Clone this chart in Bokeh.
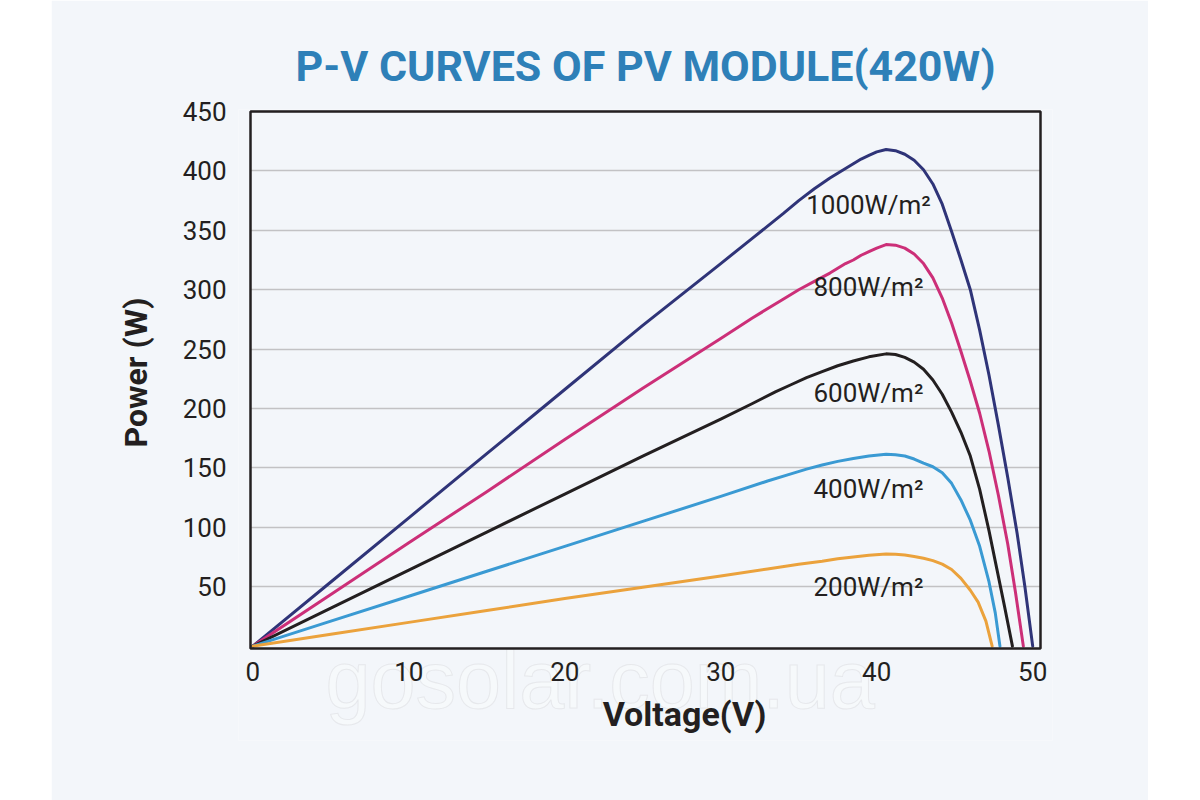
from bokeh.plotting import figure
from bokeh.models import Label, FixedTicker, Spacer, Title, BoxAnnotation
from bokeh.layouts import row
from bokeh.embed import file_html
from bokeh.resources import INLINE

# ---- data ----
v_1000 = [0, 5, 10, 15, 20, 25, 30, 32, 34, 35, 36, 37, 37.5, 38, 38.5, 39, 39.5, 40, 40.6, 41.2, 41.8, 42.4, 43, 43.6, 44.2, 44.8, 45.4, 46, 46.6, 47.2, 47.8, 48.4, 49, 49.5, 50]
p_1000 = [0, 54, 108, 162, 216, 270, 322, 343, 364, 375, 385, 394, 398, 402, 406, 410, 413, 416, 418, 417, 414, 409, 401, 389, 372, 349, 325, 300, 266, 228, 186, 142, 95, 50, 0]

v_800 = [0, 5, 10, 15, 20, 25, 30, 32, 34, 35, 36, 37, 37.5, 38, 38.5, 39, 39.5, 40, 40.6, 41.2, 41.8, 42.4, 43, 43.6, 44.2, 44.8, 45.4, 46, 46.6, 47.2, 47.8, 48.4, 48.9, 49.4]
p_800 = [0, 43.5, 87, 130, 174, 217, 259, 276, 292, 300, 307, 314, 318, 322, 325, 329, 332, 335, 338, 337.5, 335, 330, 322, 310, 293, 272, 248, 223, 196, 164, 127, 86, 45, 0]

v_600 = [0, 5, 10, 15, 20, 25, 30, 32, 33.5, 34.5, 35.5, 36.5, 37.5, 38.5, 39.5, 40.6, 41.2, 41.8, 42.4, 43, 43.6, 44.2, 44.8, 45.4, 46, 46.6, 47.2, 47.7, 48.2, 48.7]
p_600 = [0, 32, 64, 96, 128, 160, 191, 204, 214, 220, 226, 231, 236, 240, 243.5, 246, 245.5, 243, 239, 233, 224, 212, 197, 180, 160, 132, 97, 65, 33, 0]

v_400 = [0, 5, 10, 15, 20, 25, 30, 33, 34.5, 35.5, 36.5, 37.5, 38.5, 39.5, 40.6, 41.2, 41.8, 42.4, 43, 43.6, 44.2, 44.8, 45.4, 46, 46.6, 47.2, 47.6, 47.9]
p_400 = [0, 21, 42, 63, 84, 105, 126, 139, 145, 149, 152.5, 155.5, 158, 160, 161.5, 161, 160, 157.5, 154, 151, 146, 137, 123, 106, 84, 54, 28, 0]

v_200 = [0, 5, 10, 15, 20, 25, 30, 33, 35, 36.5, 37.5, 38.5, 39.5, 40.6, 41.2, 41.8, 42.4, 43, 43.6, 44.2, 44.8, 45.4, 46, 46.5, 47, 47.4]
p_200 = [0, 10, 20, 30, 40, 49.5, 59, 65, 69, 71.5, 73.5, 75, 76.5, 77.5, 77.3, 76.7, 75.5, 74, 72, 69, 64.5, 57, 47, 37, 21, 0]

series_names = ["1000W/m²", "800W/m²", "600W/m²", "400W/m²", "200W/m²"]
series_v = [v_1000, v_800, v_600, v_400, v_200]
series_p = [p_1000, p_800, p_600, p_400, p_200]
series_colors = ["#2f3478", "#cc2f78", "#231f20", "#3a9ad3", "#eba23c"]
label_x = [39.47, 39.47, 39.47, 39.47, 39.47]
label_y = [371, 302, 213, 132, 49.5]

x_ticks = [0, 10, 20, 30, 40, 50]
y_ticks = [50, 100, 150, 200, 250, 300, 350, 400, 450]
x_min, x_max = -0.15, 50.5
y_min, y_max = -2, 450

title_text = "P-V CURVES OF PV MODULE(420W)"
x_title = "Voltage(V)"
y_title = "Power (W)"
watermark = "gosolar.com.ua"

BG = "#f3f6fa"
TXT = "#231f20"
GRID = "#c2c2c4"
FONT = "Roboto"

# pixel scales of the plot area (790 px wide, 537 px high)
kx = 790 / (x_max - x_min)
ky = 537 / (y_max - y_min)
# frame: 12px wider than the drawn box on each side, 2px higher, down to y=740
xr = (x_min - 12 / kx, x_max + 12 / kx)
yr = (y_max + 2 / ky - 631 / ky, y_max + 2 / ky)

p = figure(width=1097, height=800, x_range=xr, y_range=yr,
           output_backend="svg", toolbar_location=None,
           min_border_left=187, min_border_right=96, min_border_top=109, min_border_bottom=60)
p.background_fill_color = BG
p.border_fill_color = BG
p.outline_line_color = None

p.xgrid.visible = False
grid_ok = True
try:
    p.ygrid.cross_bounds = (x_min, x_max)
except Exception:
    grid_ok = False
if grid_ok:
    p.ygrid.grid_line_color = GRID
    p.ygrid.grid_line_width = 1.6
    p.ygrid.ticker = FixedTicker(ticks=y_ticks)
else:
    p.ygrid.visible = False
    p.segment(x0=[x_min] * len(y_ticks), x1=[x_max] * len(y_ticks), y0=y_ticks, y1=y_ticks,
              line_color=GRID, line_width=1.6, level="underlay")

for ax in (p.xaxis[0], p.yaxis[0]):
    ax.axis_line_color = None
    ax.major_tick_line_color = None
    ax.minor_tick_line_color = None
    ax.major_tick_out = 0
    ax.major_tick_in = 0
    ax.minor_tick_out = 0
    ax.major_label_text_font = FONT
    ax.major_label_text_font_size = "26px"
    ax.major_label_text_color = TXT
p.xaxis.ticker = FixedTicker(ticks=x_ticks)
p.yaxis.ticker = FixedTicker(ticks=y_ticks)
p.yaxis.major_label_standoff = 12
p.xaxis.major_label_standoff = 13
p.xaxis.fixed_location = y_min

# watermark (beneath everything else)
p.add_layout(Label(x=4.66, y=-28.1, text=watermark, text_font="Liberation Sans",
                   text_font_size="81px", text_color="#ffffff", text_alpha=0.3,
                   text_outline_color="#c6c7c9", text_align="left",
                   text_baseline="alphabetic", level="underlay"))

# plot-area border
p.add_layout(BoxAnnotation(left=x_min, right=x_max, bottom=y_min, top=y_max,
                           fill_color=None, fill_alpha=0, line_color=TXT, line_alpha=1.0,
                           line_width=2.5))

for v, pw, c in zip(series_v, series_p, series_colors):
    p.line(v, pw, line_color=c, line_width=3, line_join="round", line_cap="round")

for name, lx, ly in zip(series_names, label_x, label_y):
    p.add_layout(Label(x=lx, y=ly, text=name, text_font=FONT, text_font_size="26px",
                       text_color=TXT, text_align="center", text_baseline="alphabetic"))

p.add_layout(Label(x=27.68, y=-57.5, text=x_title, text_font=FONT, text_font_size="34px",
                   text_font_style="bold", text_color=TXT, text_align="center",
                   text_baseline="alphabetic"))

p.add_layout(Title(text=title_text, align="center", standoff=38, text_font=FONT,
                   text_font_size="43px", text_font_style="bold", text_color="#2e80b8"), "above")
p.add_layout(Title(text=y_title, align="left", offset=293, standoff=50, text_font=FONT,
                   text_font_size="32px", text_font_style="bold", text_color=TXT), "left")

layout = row(Spacer(width=51, height=800), p)
open("out.html", "w").write(file_html(layout, INLINE))
